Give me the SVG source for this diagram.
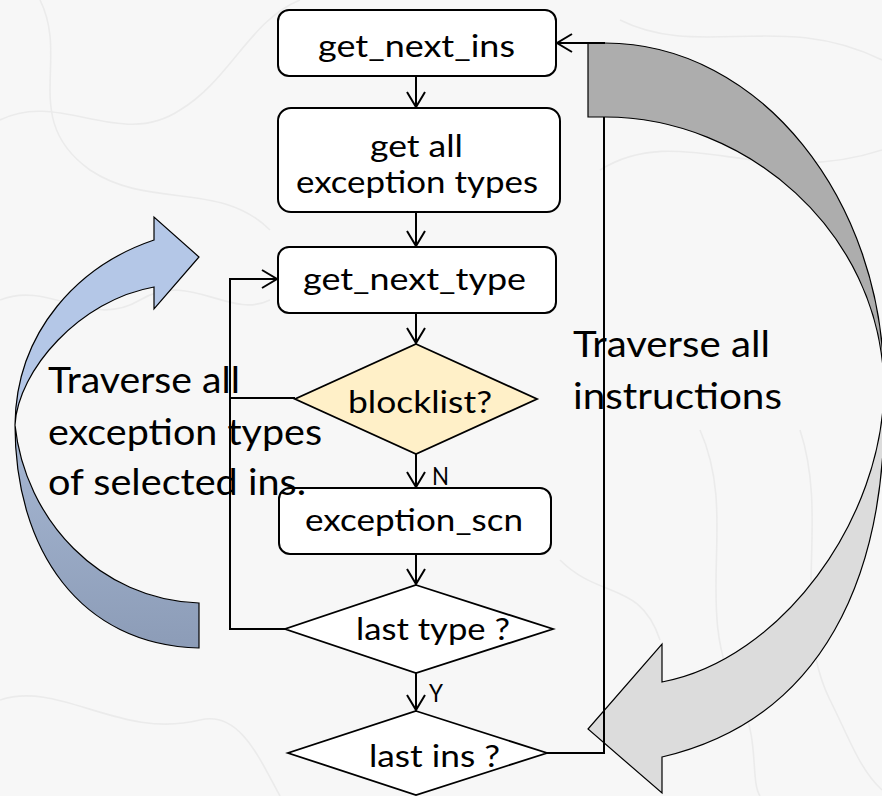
<svg xmlns="http://www.w3.org/2000/svg" width="882" height="796" viewBox="0 0 882 796">
  <defs>
    <style>
      .box { fill: #ffffff; stroke: #000000; stroke-width: 2; }
      .dia { fill: #ffffff; stroke: #000000; stroke-width: 1.8; }
      .dia-hl { fill: #fff0c8; }
      .wire { fill: none; stroke: #000000; stroke-width: 2; }
      .txt { font-family: Lato, "Open Sans", "Liberation Sans", sans-serif; fill: #000000; }
      .node-t { font-size: 31px; }
      .lbl { font-size: 25px; }
      .note { font-size: 36px; }
      .band { stroke: #000000; stroke-width: 1.2; stroke-linejoin: miter; }
      .topo { fill: none; stroke: #ebebeb; stroke-width: 1.6; }
    </style>
    <marker id="chev" markerUnits="userSpaceOnUse" markerWidth="20" markerHeight="22" viewBox="-17 -11 20 22" refX="0" refY="0" orient="auto">
      <path d="M-15,-9 L0,0 L-15,9" fill="none" stroke="#000000" stroke-width="2"/>
    </marker>
    <linearGradient id="blueBack" x1="0" y1="0" x2="0" y2="1">
      <stop offset="0" stop-color="#a7b8d4"/>
      <stop offset="1" stop-color="#8c9cb7"/>
    </linearGradient>
  </defs>

  <!-- paper background with faint contour texture -->
  <rect x="0" y="0" width="882" height="796" fill="#f7f7f7"/>
  <g id="texture">
    <path class="topo" d="M0,120 C60,90 120,150 180,110 C230,80 250,20 300,0"/>
    <path class="topo" d="M40,0 C70,60 20,120 90,170 C150,210 220,180 270,230"/>
    <path class="topo" d="M0,300 C50,280 90,330 140,300 C190,270 230,320 270,300"/>
    <path class="topo" d="M620,20 C700,60 780,10 882,60"/>
    <path class="topo" d="M600,170 C680,120 760,190 882,150"/>
    <path class="topo" d="M700,430 C740,520 690,610 740,700 C760,740 750,780 760,796"/>
    <path class="topo" d="M800,430 C830,520 790,620 830,700 C850,740 860,770 882,790"/>
    <path class="topo" d="M560,560 C600,600 640,580 660,640"/>
    <path class="topo" d="M0,700 C60,680 120,740 200,720 C240,710 260,760 280,796"/>
  </g>

  <!-- curved arrow around the inner loop -->
  <g id="loop-types-arrow">
    <path class="band" fill="url(#blueBack)" d="M15,425 C15,550 80,645 199,648 L199,603 C100,600 25,520 15,425 Z"/>
    <path class="band" fill="#b4c7e7" d="M154,240 C80,265 16,330 15,425 C18,370 80,300 154,287 L154,309 L199,257 L154,217 Z"/>
  </g>

  <!-- curved arrow around the outer loop -->
  <g id="loop-ins-arrow">
    <path class="band" fill="#dcdcdc" d="M884,385 C884,520 780,660 662,682 L662,644 L588,729 L662,793 L662,757 C820,720 890,580 884,385 Z"/>
    <path class="band" fill="#adadad" d="M588,43 L605,43 C760,43 884,200 884,385 C880,230 745,117 605,117 L588,117 Z"/>
  </g>

  <!-- flow connectors -->
  <g id="connectors">
    <path class="wire" marker-end="url(#chev)" d="M416,77 V107"/>
    <path class="wire" marker-end="url(#chev)" d="M416,212 V246"/>
    <path class="wire" marker-end="url(#chev)" d="M416,313 V343"/>
    <path class="wire" marker-end="url(#chev)" d="M416,454 V487"/>
    <path class="wire" marker-end="url(#chev)" d="M416,554 V584"/>
    <path class="wire" marker-end="url(#chev)" d="M416,673 V710"/>
    <path class="wire" d="M295,398 H230"/>
    <path class="wire" marker-end="url(#chev)" d="M285,629 H230 V279 H277"/>
    <path class="wire" marker-end="url(#chev)" d="M547,753 H604 V117 M605,43 H557"/>
    <text class="txt lbl" x="432" y="485" textLength="17" lengthAdjust="spacingAndGlyphs">N</text>
    <text class="txt lbl" x="429" y="702" textLength="14" lengthAdjust="spacingAndGlyphs">Y</text>
  </g>

  <g id="get-next-ins">
    <rect class="box" x="278" y="10" width="278" height="66" rx="11"/>
    <text class="txt node-t" x="318" y="57" textLength="197" lengthAdjust="spacingAndGlyphs">get_next_ins</text>
  </g>

  <g id="get-all-types">
    <rect class="box" x="278" y="108" width="282" height="104" rx="13"/>
    <text class="txt node-t" x="370" y="157" textLength="93" lengthAdjust="spacingAndGlyphs">get all</text>
    <text class="txt node-t" x="296" y="193" textLength="242" lengthAdjust="spacingAndGlyphs">exception types</text>
  </g>

  <g id="get-next-type">
    <rect class="box" x="278" y="247" width="278" height="66" rx="11"/>
    <text class="txt node-t" x="303" y="290" textLength="223" lengthAdjust="spacingAndGlyphs">get_next_type</text>
  </g>

  <g id="blocklist">
    <polygon class="dia dia-hl" points="416,344 537,399 416,454 295,399"/>
    <text class="txt node-t" x="348" y="413" textLength="144" lengthAdjust="spacingAndGlyphs">blocklist?</text>
  </g>

  <g id="exception-scn">
    <rect class="box" x="279" y="488" width="272" height="66" rx="11"/>
    <text class="txt node-t" x="305" y="531" textLength="218" lengthAdjust="spacingAndGlyphs">exception_scn</text>
  </g>

  <g id="last-type">
    <polygon class="dia" points="416,585 553,629 416,673 285,629"/>
    <text class="txt node-t" x="356" y="640" textLength="154" lengthAdjust="spacingAndGlyphs">last type ?</text>
  </g>

  <g id="last-ins">
    <polygon class="dia" points="416,711 547,753 416,795 288,753"/>
    <text class="txt node-t" x="369" y="767" textLength="131" lengthAdjust="spacingAndGlyphs">last ins ?</text>
  </g>

  <g id="note-types">
    <text class="txt note" x="48" y="393" textLength="192" lengthAdjust="spacingAndGlyphs">Traverse all</text>
    <text class="txt note" x="48" y="445" textLength="274" lengthAdjust="spacingAndGlyphs">exception types</text>
    <text class="txt note" x="48" y="495" textLength="258" lengthAdjust="spacingAndGlyphs">of selected ins.</text>
  </g>

  <g id="note-ins">
    <text class="txt note" x="573" y="357" textLength="197" lengthAdjust="spacingAndGlyphs">Traverse all</text>
    <text class="txt note" x="573" y="409" textLength="209" lengthAdjust="spacingAndGlyphs">instructions</text>
  </g>
</svg>
